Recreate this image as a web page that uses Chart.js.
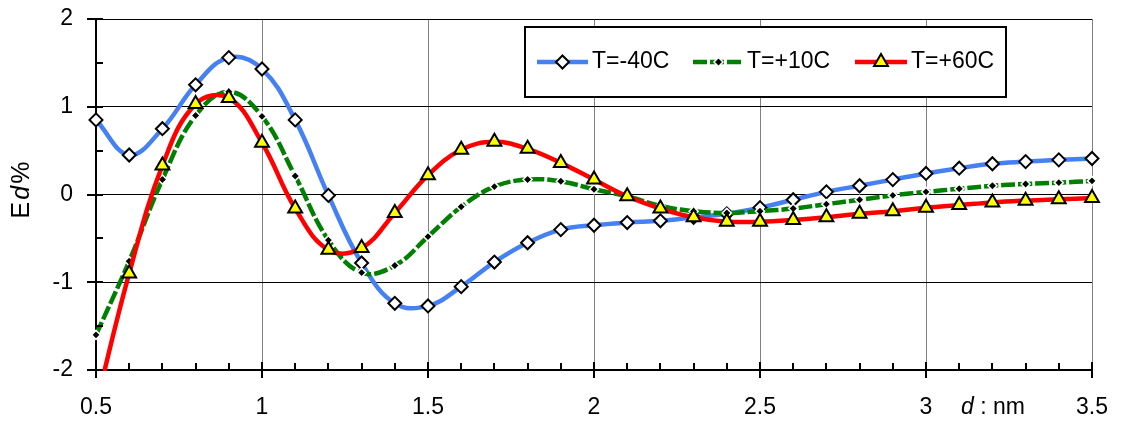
<!DOCTYPE html>
<html>
<head>
<meta charset="utf-8">
<script src="https://cdn.jsdelivr.net/npm/chart.js@4/dist/chart.umd.min.js"></script>
<style>
    html, body { margin: 0; padding: 0; background: #fff; }
    #wrap { width: 1122px; height: 424px; position: relative; }
</style>
</head>
<body>
<div id="wrap"><canvas id="chart" width="1122" height="424"></canvas></div>
<script>
// d values (nm)
const dValues = [0.5, 0.6, 0.7, 0.8, 0.9, 1.0, 1.1, 1.2, 1.3, 1.4, 1.5, 1.6, 1.7, 1.8, 1.9, 2.0,
                 2.1, 2.2, 2.3, 2.4, 2.5, 2.6, 2.7, 2.8, 2.9, 3.0, 3.1, 3.2, 3.3, 3.4, 3.5];

// Ed% for each temperature
const tMinus40 = [0.85, 0.45, 0.75, 1.25, 1.56, 1.43, 0.85, -0.01, -0.78, -1.24, -1.27, -1.05, -0.77, -0.55, -0.40, -0.35,
                  -0.32, -0.30, -0.26, -0.22, -0.15, -0.06, 0.03, 0.10, 0.17, 0.24, 0.30, 0.35, 0.375, 0.395, 0.41];
const tPlus10 = [-1.60, -0.76, 0.17, 0.90, 1.17, 0.89, 0.21, -0.52, -0.89, -0.81, -0.48, -0.14, 0.09, 0.17, 0.15, 0.06,
                 -0.02, -0.13, -0.19, -0.21, -0.19, -0.16, -0.11, -0.06, -0.01, 0.03, 0.065, 0.10, 0.12, 0.135, 0.155];
const tPlus60 = [-2.40, -0.90, 0.33, 1.03, 1.10, 0.59, -0.16, -0.63, -0.61, -0.21, 0.22, 0.51, 0.60, 0.52, 0.36, 0.17,
                 -0.02, -0.16, -0.26, -0.31, -0.31, -0.29, -0.26, -0.22, -0.19, -0.15, -0.12, -0.09, -0.07, -0.055, -0.04];

const seriesNames = ["T=-40C", "T=+10C", "T=+60C"];
const xTickLabels = ["0.5", "1", "1.5", "2", "2.5", "3", "3.5"];
const yTickLabels = ["-2", "-1", "0", "1", "2"];

const FONT = "'Liberation Sans', Arial, sans-serif";
const FS = 23;

function toPoints(ys) {
    return dValues.map((x, i) => ({ x: x, y: ys[i] }));
}

// small marker painter, used for the legend
function drawMarker(ctx, style, x, y, r, fill, stroke, lw) {
    ctx.save();
    ctx.setLineDash([]);
    ctx.beginPath();
    if (style === "triangle") {
        ctx.moveTo(x, y - r);
        ctx.lineTo(x + r * 0.866, y + r * 0.5);
        ctx.lineTo(x - r * 0.866, y + r * 0.5);
    } else {
        ctx.moveTo(x, y - r);
        ctx.lineTo(x + r, y);
        ctx.lineTo(x, y + r);
        ctx.lineTo(x - r, y);
    }
    ctx.closePath();
    ctx.fillStyle = fill;
    ctx.fill();
    ctx.lineWidth = lw;
    ctx.strokeStyle = stroke;
    ctx.stroke();
    ctx.restore();
}

const decorPlugin = {
    id: "decor",
    afterDraw(chart) {
        const ctx = chart.ctx;
        const xs = chart.scales.x;
        const ys = chart.scales.y;
        const area = chart.chartArea;

        // axis tick marks
        ctx.save();
        ctx.strokeStyle = "#000";
        ctx.lineWidth = 2;
        ctx.beginPath();
        for (let i = 0; i <= 30; i++) {
            const v = 0.5 + i * 0.1;
            const px = Math.round(xs.getPixelForValue(v));
            if (i % 5 === 0) {
                ctx.moveTo(px, area.bottom - 8);
                ctx.lineTo(px, area.bottom + 8);
            } else {
                ctx.moveTo(px, area.bottom);
                ctx.lineTo(px, area.bottom - 7);
            }
        }
        for (let i = 0; i <= 8; i++) {
            const v = -2 + i * 0.5;
            const py = Math.round(ys.getPixelForValue(v));
            if (i % 2 === 0) {
                ctx.moveTo(area.left - 9, py);
                ctx.lineTo(area.left + 7, py);
            } else {
                ctx.moveTo(area.left, py);
                ctx.lineTo(area.left + 7, py);
            }
        }
        ctx.stroke();
        ctx.restore();

        const fN = FS + "px " + FONT;
        const fI = "italic " + FS + "px " + FONT;

        // y axis title  E d %
        const tN = "25px " + FONT;
        const tI = "italic 25px " + FONT;
        const gap = 2;
        ctx.save();
        ctx.translate(22, 190);
        ctx.rotate(-Math.PI / 2);
        ctx.fillStyle = "#000";
        ctx.textBaseline = "middle";
        ctx.font = tN; const wE = ctx.measureText("E").width;
        ctx.font = tI; const wD = ctx.measureText("d").width;
        ctx.font = tN; const wP = ctx.measureText("%").width;
        let tx = -(wE + wD + wP + 2 * gap) / 2;
        ctx.font = tN; ctx.fillText("E", tx, 0); tx += wE + gap;
        ctx.font = tI; ctx.fillText("d", tx, 0); tx += wD + gap;
        ctx.font = tN; ctx.fillText("%", tx, 0);
        ctx.restore();

        // x axis title  d : nm
        ctx.save();
        ctx.fillStyle = "#000";
        ctx.textBaseline = "middle";
        ctx.font = fI;
        ctx.fillText("d", 961, 408);
        const wd2 = ctx.measureText("d").width;
        ctx.font = fN;
        ctx.fillText(" : nm", 961 + wd2, 408);
        ctx.restore();

        // legend box
        ctx.save();
        ctx.fillStyle = "#fff";
        ctx.fillRect(525, 27, 481, 70);
        ctx.strokeStyle = "#000";
        ctx.lineWidth = 2;
        ctx.strokeRect(525, 27, 481, 70);
        const items = [
            { x1: 537, x2: 588, tx: 592 },
            { x1: 693, x2: 744, tx: 747 },
            { x1: 855, x2: 907, tx: 911 }
        ];
        const ly = 62;
        chart.data.datasets.forEach((ds, i) => {
            const it = items[i];
            ctx.save();
            ctx.strokeStyle = ds.borderColor;
            ctx.lineWidth = ds.borderWidth;
            ctx.lineCap = "butt";
            ctx.setLineDash(ds.borderDash || []);
            ctx.beginPath();
            ctx.moveTo(it.x1, ly);
            ctx.lineTo(it.x2, ly);
            ctx.stroke();
            ctx.restore();
            const mx = (it.x1 + it.x2) / 2;
            drawMarker(ctx, ds.pointStyle, mx, ly, ds.pointRadius,
                ds.pointBackgroundColor, ds.pointBorderColor, ds.pointBorderWidth);
            ctx.fillStyle = "#000";
            ctx.font = fN;
            ctx.textBaseline = "middle";
            ctx.fillText(ds.label, it.tx, ly);
        });
        ctx.restore();
    }
};

const ctx = document.getElementById("chart").getContext("2d");

let chart = new Chart(ctx, {
    type: "line",
    data: {
        datasets: [
            {
                label: seriesNames[0],
                data: toPoints(tMinus40),
                borderColor: "#4680F5",
                borderWidth: 4.5,
                tension: 0.4,
                pointStyle: "rectRot",
                pointRadius: 6.5,
                pointBackgroundColor: "#fff",
                pointBorderColor: "#000",
                pointBorderWidth: 2,
                clip: false,
                order: 3
            },
            {
                label: seriesNames[1],
                data: toPoints(tPlus10),
                borderColor: "#008000",
                borderWidth: 4.5,
                borderDash: [14, 3],
                tension: 0.4,
                pointStyle: "rectRot",
                pointRadius: 4.5,
                pointBackgroundColor: "#000",
                pointBorderColor: "#fff",
                pointBorderWidth: 1.5,
                clip: false,
                order: 2
            },
            {
                label: seriesNames[2],
                data: toPoints(tPlus60),
                borderColor: "#FF0000",
                borderWidth: 4.5,
                tension: 0.4,
                pointStyle: "triangle",
                pointRadius: 8,
                pointBackgroundColor: "#FFFF00",
                pointBorderColor: "#000",
                pointBorderWidth: 2,
                clip: { left: 12, top: 12, right: 12, bottom: 1 },
                order: 1
            }
        ]
    },
    options: {
        responsive: false,
        animation: false,
        devicePixelRatio: 1,
        layout: { autoPadding: false, padding: { left: 0, top: 19, right: 30, bottom: 0 } },
        plugins: {
            legend: { display: false },
            tooltip: { enabled: false }
        },
        scales: {
            x: {
                type: "linear",
                min: 0.5,
                max: 3.5,
                afterFit: (scale) => {
                    scale.height = 54;
                    scale.paddingLeft = 0;
                    scale.paddingRight = 0;
                },
                ticks: {
                    stepSize: 0.5,
                    padding: 24,
                    color: "#000",
                    font: { family: FONT, size: FS },
                    maxRotation: 0,
                    callback: (value, index) => xTickLabels[index]
                },
                grid: { color: "#808080", lineWidth: 1, drawTicks: false },
                border: { display: true, color: "#000", width: 2 }
            },
            y: {
                type: "linear",
                min: -2,
                max: 2,
                afterFit: (scale) => {
                    scale.width = 96;
                    scale.paddingTop = 0;
                    scale.paddingBottom = 0;
                },
                ticks: {
                    stepSize: 1,
                    padding: 23,
                    color: "#000",
                    font: { family: FONT, size: FS },
                    callback: (value, index) => yTickLabels[index]
                },
                grid: { color: "#000", lineWidth: 1, drawTicks: false },
                border: { display: true, color: "#000", width: 2 }
            }
        }
    },
    plugins: [decorPlugin]
});
</script>
</body>
</html>
